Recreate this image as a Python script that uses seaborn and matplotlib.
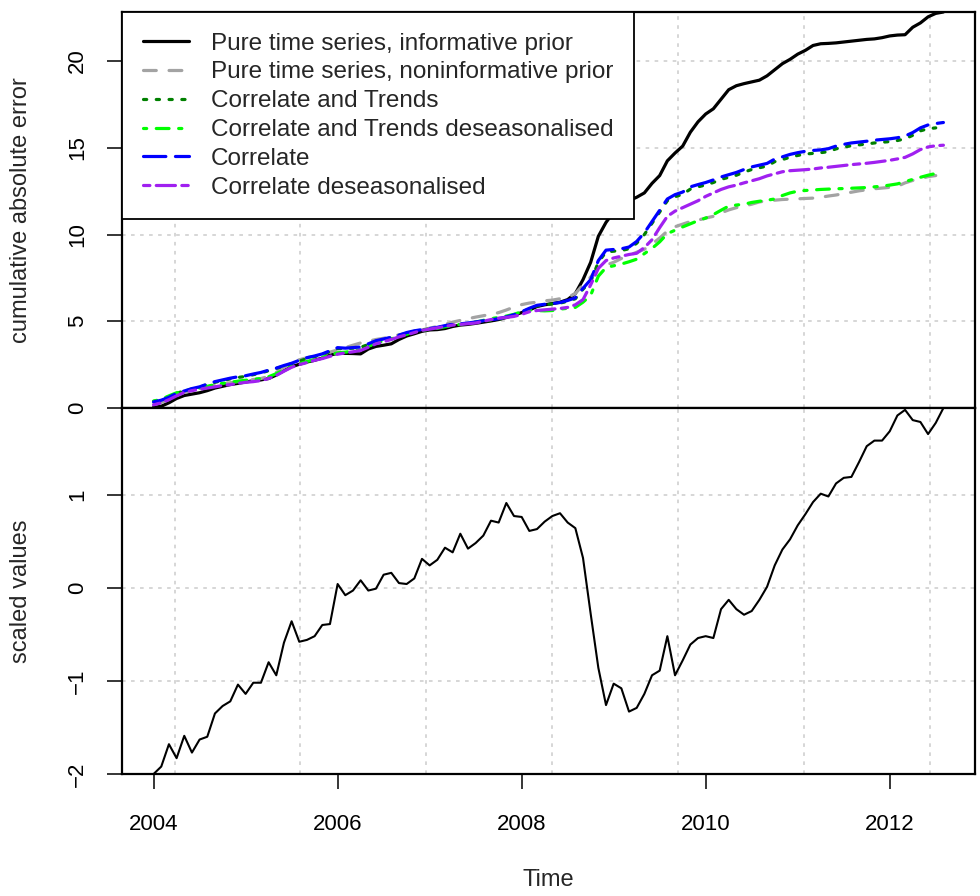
import numpy as np
import pandas as pd
import matplotlib
matplotlib.use("Agg")
import matplotlib.pyplot as plt
from matplotlib.lines import Line2D
import seaborn as sns

# ---- data: monthly series starting January 2004 ----
start_year = 2004

informative_prior = [
    0.04, 0.10, 0.30, 0.55, 0.72, 0.80, 0.88, 1.00, 1.15, 1.25, 1.35, 1.42,
    1.50, 1.57, 1.62, 1.70, 1.90, 2.15, 2.38, 2.52, 2.65, 2.75, 2.88, 3.05,
    3.15, 3.15, 3.14, 3.12, 3.40, 3.55, 3.62, 3.70, 3.95, 4.15, 4.28, 4.42,
    4.50, 4.52, 4.58, 4.70, 4.78, 4.82, 4.88, 4.95, 5.02, 5.10, 5.22, 5.35,
    5.50, 5.65, 5.85, 5.95, 6.02, 6.10, 6.25, 6.60, 7.40, 8.40, 9.90, 10.70,
    11.30, 11.70, 11.95, 12.15, 12.40, 12.95, 13.40, 14.25, 14.70, 15.10, 15.90, 16.50,
    16.95, 17.25, 17.80, 18.35, 18.58, 18.70, 18.80, 18.90, 19.15, 19.50, 19.85, 20.10,
    20.40, 20.62, 20.90, 21.00, 21.02, 21.05, 21.10, 21.15, 21.20, 21.25, 21.28, 21.35,
    21.45, 21.50, 21.52, 21.95, 22.20, 22.55, 22.75, 22.83,
]

noninformative_prior = [
    0.20, 0.32, 0.50, 0.72, 0.90, 1.02, 1.12, 1.22, 1.32, 1.40, 1.46, 1.52,
    1.58, 1.64, 1.70, 1.82, 2.05, 2.35, 2.62, 2.78, 2.90, 3.00, 3.10, 3.22,
    3.35, 3.48, 3.62, 3.75, 3.85, 3.95, 4.02, 4.12, 4.22, 4.30, 4.40, 4.50,
    4.60, 4.70, 4.82, 4.95, 5.05, 5.15, 5.24, 5.32, 5.40, 5.50, 5.65, 5.82,
    5.96, 6.05, 6.10, 6.18, 6.22, 6.30, 6.38, 6.60, 7.10, 7.55, 8.10, 8.24,
    8.40, 8.62, 8.80, 8.98, 9.15, 9.45, 9.80, 10.20, 10.45, 10.60, 10.75, 10.83,
    10.95, 11.05, 11.25, 11.42, 11.55, 11.64, 11.75, 11.88, 11.95, 11.98, 12.02, 12.04,
    12.06, 12.08, 12.10, 12.15, 12.22, 12.28, 12.36, 12.44, 12.52, 12.58, 12.64, 12.68,
    12.72, 12.78, 12.98, 13.12, 13.22, 13.34, 13.40,
]

correlate_trends = [
    0.38, 0.50, 0.65, 0.85, 0.98, 1.10, 1.20, 1.35, 1.48, 1.58, 1.68, 1.76,
    1.82, 1.92, 2.02, 2.15, 2.28, 2.42, 2.55, 2.70, 2.85, 2.96, 3.08, 3.25,
    3.42, 3.42, 3.45, 3.50, 3.66, 3.84, 3.95, 4.05, 4.18, 4.32, 4.42, 4.50,
    4.56, 4.62, 4.72, 4.80, 4.84, 4.88, 4.94, 5.00, 5.05, 5.12, 5.22, 5.35,
    5.52, 5.72, 5.88, 5.95, 6.00, 6.05, 6.15, 6.30, 6.85, 7.30, 8.40, 9.00,
    9.04, 9.08, 9.18, 9.50, 10.00, 10.65, 11.30, 11.95, 12.18, 12.32, 12.62, 12.75,
    12.86, 13.00, 13.18, 13.30, 13.42, 13.60, 13.75, 13.85, 13.95, 14.20, 14.32, 14.46,
    14.56, 14.64, 14.68, 14.72, 14.78, 14.94, 15.04, 15.12, 15.17, 15.22, 15.28, 15.32,
    15.36, 15.42, 15.52, 15.72, 15.98, 16.10, 16.15,
]

correlate_trends_deseas = [
    0.40, 0.50, 0.70, 0.88, 0.98, 1.08, 1.15, 1.25, 1.35, 1.42, 1.48, 1.55,
    1.60, 1.65, 1.70, 1.80, 1.98, 2.20, 2.40, 2.55, 2.68, 2.80, 2.92, 3.05,
    3.18, 3.22, 3.28, 3.36, 3.55, 3.75, 3.86, 3.98, 4.12, 4.25, 4.38, 4.48,
    4.54, 4.60, 4.68, 4.76, 4.82, 4.88, 4.95, 5.05, 5.15, 5.22, 5.30, 5.40,
    5.55, 5.65, 5.62, 5.60, 5.62, 5.70, 5.75, 5.80, 6.10, 6.50, 7.60, 8.10,
    8.20, 8.30, 8.43, 8.58, 8.90, 9.20, 9.58, 10.05, 10.25, 10.44, 10.62, 10.80,
    10.95, 11.15, 11.40, 11.64, 11.70, 11.75, 11.85, 11.92, 11.98, 12.05, 12.25, 12.40,
    12.50, 12.54, 12.57, 12.60, 12.62, 12.64, 12.65, 12.67, 12.69, 12.71, 12.75, 12.79,
    12.85, 12.92, 13.05, 13.18, 13.30, 13.42, 13.52,
]

correlate = [
    0.35, 0.45, 0.62, 0.85, 0.98, 1.12, 1.22, 1.38, 1.52, 1.62, 1.72, 1.80,
    1.86, 1.96, 2.05, 2.18, 2.30, 2.45, 2.58, 2.75, 2.90, 3.00, 3.12, 3.30,
    3.48, 3.45, 3.48, 3.52, 3.70, 3.88, 3.98, 4.08, 4.20, 4.35, 4.45, 4.52,
    4.58, 4.65, 4.75, 4.82, 4.85, 4.90, 4.96, 5.03, 5.08, 5.15, 5.25, 5.38,
    5.55, 5.75, 5.92, 5.98, 6.02, 6.08, 6.20, 6.35, 6.90, 7.40, 8.50, 9.10,
    9.14, 9.18, 9.28, 9.60, 10.10, 10.75, 11.40, 12.05, 12.30, 12.45, 12.75, 12.88,
    13.00, 13.15, 13.32, 13.45, 13.58, 13.75, 13.90, 14.00, 14.10, 14.35, 14.48, 14.62,
    14.72, 14.80, 14.85, 14.88, 14.95, 15.10, 15.20, 15.28, 15.33, 15.38, 15.44, 15.48,
    15.52, 15.58, 15.68, 15.88, 16.15, 16.32, 16.40, 16.46,
]

correlate_deseas = [
    0.18, 0.30, 0.48, 0.70, 0.90, 1.00, 1.08, 1.15, 1.22, 1.30, 1.35, 1.42,
    1.48, 1.52, 1.58, 1.70, 1.88, 2.12, 2.35, 2.50, 2.62, 2.75, 2.85, 2.98,
    3.10, 3.18, 3.24, 3.32, 3.50, 3.70, 3.82, 3.95, 4.10, 4.22, 4.35, 4.48,
    4.55, 4.62, 4.70, 4.78, 4.82, 4.86, 4.90, 5.00, 5.10, 5.18, 5.22, 5.28,
    5.40, 5.55, 5.62, 5.66, 5.70, 5.74, 5.80, 5.95, 6.25, 7.10, 8.05, 8.50,
    8.65, 8.75, 8.85, 8.92, 9.25, 9.70, 10.40, 11.05, 11.35, 11.55, 11.75, 11.95,
    12.20, 12.40, 12.60, 12.75, 12.85, 12.98, 13.10, 13.22, 13.38, 13.50, 13.62, 13.68,
    13.71, 13.74, 13.78, 13.84, 13.88, 13.93, 13.98, 14.03, 14.07, 14.11, 14.16, 14.22,
    14.28, 14.36, 14.45, 14.65, 14.90, 15.05, 15.12, 15.15,
]

scaled_values = [
    -2.00, -1.92, -1.68, -1.83, -1.59, -1.77, -1.63, -1.60, -1.35, -1.27, -1.22, -1.04,
    -1.14, -1.02, -1.02, -0.80, -0.94, -0.59, -0.36, -0.58, -0.56, -0.52, -0.40, -0.39,
    0.04, -0.08, -0.03, 0.08, -0.03, -0.01, 0.14, 0.16, 0.05, 0.04, 0.10, 0.31,
    0.24, 0.30, 0.43, 0.38, 0.58, 0.42, 0.48, 0.56, 0.72, 0.70, 0.91, 0.77,
    0.76, 0.61, 0.63, 0.71, 0.77, 0.80, 0.70, 0.64, 0.32, -0.28, -0.86, -1.26,
    -1.03, -1.08, -1.33, -1.29, -1.14, -0.94, -0.89, -0.52, -0.94, -0.78, -0.61, -0.54,
    -0.52, -0.54, -0.23, -0.13, -0.23, -0.29, -0.25, -0.13, 0.01, 0.24, 0.41, 0.52,
    0.67, 0.79, 0.92, 1.01, 0.98, 1.12, 1.18, 1.19, 1.35, 1.52, 1.58, 1.58,
    1.68, 1.85, 1.91, 1.80, 1.78, 1.65, 1.77, 1.93,
]

model_names = [
    "Pure time series, informative prior",
    "Pure time series, noninformative prior",
    "Correlate and Trends",
    "Correlate and Trends deseasonalised",
    "Correlate",
    "Correlate deseasonalised",
]
model_series = [
    informative_prior, noninformative_prior, correlate_trends,
    correlate_trends_deseas, correlate, correlate_deseas,
]
model_colors = ["#000000", "#A3A3A3", "#008000", "#00FF00", "#0000FF", "#A020F0"]
# R line types: solid, dashed, dotted, dotdash, longdash, twodash
model_dashes = [(), (4, 4), (1, 3), (1, 3, 4, 3), (7, 3), (2, 2, 6, 2)]


def month_index(values):
    return start_year + np.arange(len(values)) / 12.0


errors = pd.concat(
    [pd.DataFrame({"time": month_index(v), "error": v, "model": name})
     for name, v in zip(model_names, model_series)],
    ignore_index=True,
)
scaled = pd.DataFrame({"time": month_index(scaled_values), "value": scaled_values})

# ---- styling ----
sns.set_theme(style="white")
plt.rcParams["font.family"] = ["Liberation Sans", "DejaVu Sans"]
FS = 16
FS_LAB = 17
FS_LEG = 17.5

fig = plt.figure(figsize=(9.8, 8.96), dpi=100)
W, H = 980.0, 896.0
left, right = 122, 975
ax_top = fig.add_axes([left / W, (H - 408) / H, (right - left) / W, (408 - 12) / H])
ax_bot = fig.add_axes([left / W, (H - 774) / H, (right - left) / W, (774 - 408) / H],
                      sharex=ax_top)

palette = dict(zip(model_names, model_colors))
dashes = dict(zip(model_names, model_dashes))
sns.lineplot(data=errors, x="time", y="error", hue="model", style="model",
             hue_order=model_names, style_order=model_names,
             palette=palette, dashes=dashes, linewidth=2.3,
             estimator=None, sort=False, legend=False, ax=ax_top)
sns.lineplot(data=scaled, x="time", y="value", color="black", linewidth=1.5,
             estimator=None, sort=False, ax=ax_bot)
for ln in ax_top.get_lines() + ax_bot.get_lines():
    ln.set_dash_capstyle("round")
    ln.set_solid_capstyle("round")
    ln.set_solid_joinstyle("round")

# x range padded by 4% of the data span, as in base R
t_all = errors["time"]
span = t_all.max() - t_all.min()
ax_top.set_xlim(t_all.min() - 0.04 * span, t_all.max() + 0.04 * span)
ax_top.set_ylim(0, errors["error"].max())
ax_bot.set_ylim(min(scaled_values), max(scaled_values))

year_ticks = [2004, 2006, 2008, 2010, 2012]
ax_bot.set_xticks(year_ticks)
ax_bot.set_xticklabels([str(y) for y in year_ticks])
ax_top.set_yticks([0, 5, 10, 15, 20])
ax_bot.set_yticks([-2, -1, 0, 1])

# dotted background grid
grid_x = 2004.228 + 1.368 * np.arange(7)
for ax, gy in ((ax_top, [5, 10, 15, 20]), (ax_bot, [-2, -1, 0, 1])):
    for gx in grid_x:
        ax.axvline(gx, color="#D3D3D3", lw=1.3, ls=(0, (2, 3)), zorder=0)
    for yv in gy:
        ax.axhline(yv, color="#D3D3D3", lw=1.3, ls=(0, (2, 3)), zorder=0)

for ax in (ax_top, ax_bot):
    for sp in ax.spines.values():
        sp.set_visible(True)
        sp.set_color("black")
        sp.set_linewidth(1.6)
    ax.tick_params(axis="y", which="major", direction="out", length=10.5, width=1.1,
                   pad=14, labelsize=FS, left=True, colors="black")
    for lab in ax.get_yticklabels():
        lab.set_rotation(90)
        lab.set_va("center")
    ax.set_xlabel("")
    ax.set_ylabel("")

ax_top.tick_params(axis="x", which="both", bottom=False, labelbottom=False)
ax_bot.tick_params(axis="x", which="major", direction="out", length=10.5, width=1.1,
                   pad=18, labelsize=FS, bottom=True, colors="black")

ax_top.set_ylabel("cumulative absolute error", fontsize=FS_LAB, va="center")
ax_top.yaxis.set_label_coords((21 - left) / (right - left), 0.5)
ax_bot.set_ylabel("scaled values", fontsize=FS_LAB, va="center")
ax_bot.yaxis.set_label_coords((21 - left) / (right - left), 0.5)
ax_bot.set_xlabel("Time", fontsize=FS_LAB, va="center")
ax_bot.xaxis.set_label_coords(0.5, (774 - 880) / (774 - 408))

handles = [Line2D([0], [0], color=c, lw=2.3, dashes=d if d else (None, None),
                  dash_capstyle="round")
           for c, d in zip(model_colors, model_dashes)]
leg = ax_top.legend(handles, model_names, loc="upper left", bbox_to_anchor=(0, 1),
                    borderaxespad=0, frameon=True, fancybox=False, framealpha=1,
                    edgecolor="black", fontsize=FS_LEG, handlelength=1.9,
                    handletextpad=0.9, labelspacing=0.28, borderpad=0.85)
leg.get_frame().set_linewidth(1.3)

fig.savefig("out.png", dpi=100)
